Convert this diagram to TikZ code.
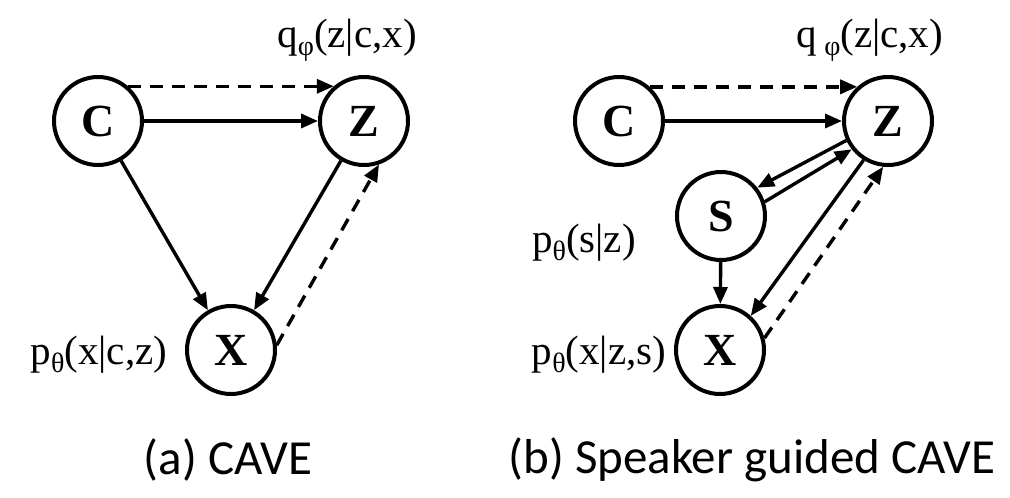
\documentclass[tikz,border=0pt]{standalone}
\usepackage{fontspec}
\setmainfont{Liberation Serif}
\newfontfamily\capfont{Carlito}
\usetikzlibrary{arrows.meta}
\newcommand{\sbs}[1]{{\fontsize{28}{28}\selectfont\raisebox{-8pt}{#1}}}
\tikzset{
  var/.style={circle, draw, line width=4pt, minimum size=88pt, inner sep=0pt,
    font=\fontsize{46}{54}\selectfont\bfseries},
  arr/.style={line width=3.4pt, -{Triangle[length=17pt,width=14pt]}},
  darr/.style={arr, dash pattern=on 13pt off 9pt},
  lbl/.style={font=\fontsize{41}{48}\selectfont, inner sep=0pt},
  captext/.style={font=\capfont\fontsize{49}{58}\selectfont, inner sep=0pt}
}
\begin{document}
\begin{tikzpicture}[x=1pt,y=-1pt]
\useasboundingbox (0,0) rectangle (1010,498);
% (a)
\node[var] (C1) at (98,121) {C};
\node[var] (Z1) at (364,121) {Z};
\node[var] (X1) at (231,350) {X};
\node[lbl] (q1) at (347,40) {q\sbs{φ}(z|c,x)};
\node[lbl] (p1) at (99,355) {p\sbs{θ}(x|c,z)};
\draw[arr] (C1) -- (Z1);
\draw[darr] (C1.49) -- (Z1.131);
\draw[arr] (C1) -- (X1);
\draw[arr] (Z1) -- (X1);
\draw[darr] (X1.6) -- (Z1.-71);
\node[captext] (ca) at (228,460) {(a) CAVE};
% (b)
\node[var] (C2) at (619,121) {C};
\node[var] (Z2) at (888,121) {Z};
\node[var] (S2) at (721,216) {S};
\node[var] (X2) at (720,350) {X};
\node[lbl] (q2) at (870,40) {q\,\sbs{φ}(z|c,x)};
\node[lbl] (ps) at (584,243) {p\sbs{θ}(s|z)};
\node[lbl] (px) at (599,355) {p\sbs{θ}(x|z,s)};
\draw[arr] (C2) -- (Z2);
\draw[darr] (C2.48) -- (Z2.132);
\draw[arr] (Z2.205) -- (S2.38);
\draw[arr] (S2.18) -- (Z2.218);
\draw[arr] (S2) -- (X2);
\draw[arr] (Z2.238) -- (X2.48);
\draw[darr] (X2.15) -- (Z2.-96);
\node[captext] (cb) at (752,460) {(b) Speaker guided CAVE};
\end{tikzpicture}
\end{document}
